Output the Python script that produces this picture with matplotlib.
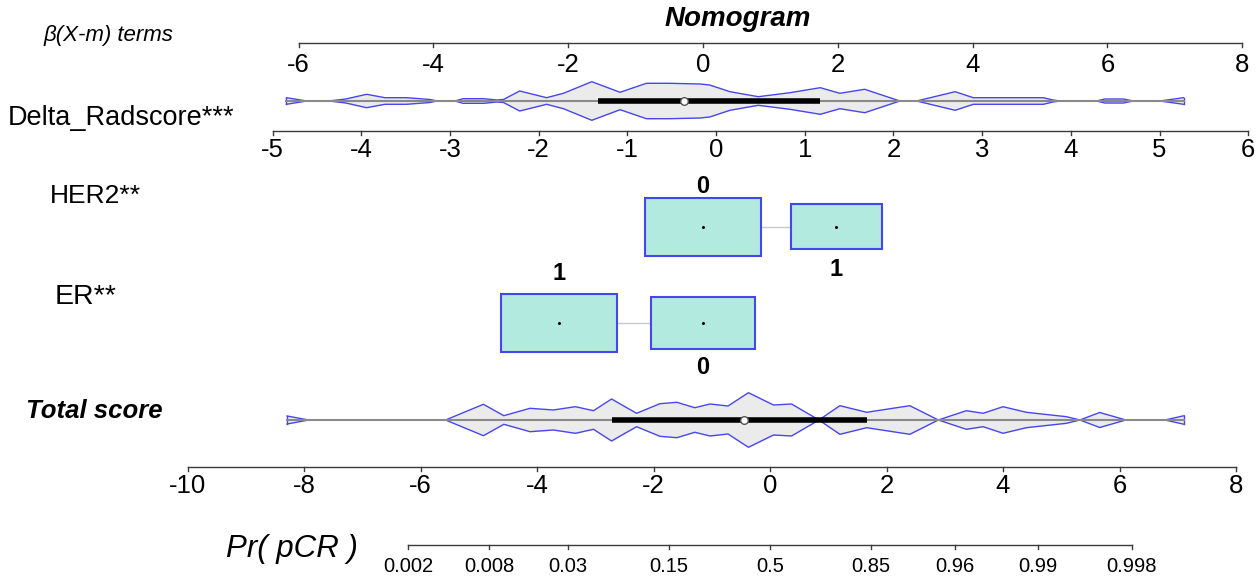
import numpy as np
import matplotlib.pyplot as plt

plt.rcParams['font.family'] = ['Liberation Sans', 'DejaVu Sans']

# ---- values ----
beta_ticks = [-6, -4, -2, 0, 2, 4, 6, 8]

# Delta_Radscore: raw axis and beta*(X - m) mapping
delta_ticks = [-5, -4, -3, -2, -1, 0, 1, 2, 3, 4, 5, 6]
delta_coef = 1.316
delta_mean = -0.147
# violin outline on the beta scale (half width in px)
delta_x = [-6.18, -5.88, -5.55, -5.30, -4.99, -4.72, -4.40, -4.05, -3.95, -3.68,
           -3.56, -3.25, -3.06, -2.96, -2.72, -2.32, -2.07, -1.65, -1.23, -0.84,
           -0.50, -0.04, 0.10, 0.40, 0.82, 1.29, 1.74, 2.03, 2.40, 2.92,
           3.17, 3.74, 4.01, 5.05, 5.19, 5.30, 5.84, 5.96, 6.24, 6.38, 6.78, 7.13]
delta_w = [3.3, 0, 0, 2, 6.7, 3.3, 3.3, 1.5, 0, 0,
           2.3, 2.3, 1, 1.5, 10, 3.3, 7.7, 19.3, 8.7, 17.7,
           17.7, 17, 16, 9.3, 4.3, 8.3, 13.3, 7.7, 11.7, 0,
           0, 9.3, 3.3, 3.3, 1, 0, 0, 2, 2, 0, 0, 3.3]
delta_iqr = [-1.56, 1.74]
delta_med = -0.28

her2_levels = ['0', '1']
her2_beta = [0.0, 1.98]
her2_freq = [0.62, 0.38]

er_levels = ['1', '0']
er_beta = [-2.14, 0.0]
er_freq = [0.55, 0.45]

# total score violin (total-point scale)
total_ticks = [-10, -8, -6, -4, -2, 0, 2, 4, 6, 8]
total_x = [-8.29, -7.92, -5.57, -4.92, -4.57, -4.12, -3.72, -3.34, -3.03, -2.72,
           -2.29, -1.89, -1.60, -1.29, -1.03, -0.72, -0.37, 0.06, 0.37, 0.84,
           1.20, 1.66, 2.40, 2.89, 3.37, 3.66, 4.00, 4.40, 5.09, 5.32,
           5.66, 6.11, 6.78, 7.11]
total_w = [4, 0, 0, 15.7, 4.3, 11.7, 10, 13.3, 9.3, 21,
           6.7, 16.3, 17.7, 12.3, 16, 14, 27.3, 15, 16, 0,
           14.3, 7.7, 14.3, 0, 9.3, 6.7, 13.3, 7.7, 3.3, 0,
           7.5, 0, 0, 4.3]
total_iqr = [-2.72, 1.66]
total_med = -0.45

prob_ticks = [0.002, 0.008, 0.03, 0.15, 0.5, 0.85, 0.96, 0.99, 0.998]
prob_labels = ['0.002', '0.008', '0.03', '0.15', '0.5', '0.85', '0.96', '0.99', '0.998']

# ---- figure ----
W, H = 1258, 578
BLUE = '#4646ee'
AXC = '#3a3a3a'

fig = plt.figure(figsize=(W / 100, H / 100), dpi=100)
ax = fig.add_axes([0, 0, 1, 1])          # beta(X-m) scale
ax.set_xlim(-703 / 67.4, (W - 703) / 67.4)
ax.set_ylim(H, 0)
ax.axis('off')
ax2 = fig.add_axes([0, 0, 1, 1])         # total points scale
ax2.set_xlim(-770 / 58.25, (W - 770) / 58.25)
ax2.set_ylim(H, 0)
ax2.axis('off')


def draw_axis(a, pos, labels, y, ylab, fs=18.5):
    a.plot([pos[0], pos[-1]], [y, y], color=AXC, lw=1)
    for p, lab in zip(pos, labels):
        a.plot([p, p], [y, y + 4], color=AXC, lw=1)
        a.text(p, ylab, lab, ha='center', va='center', fontsize=fs)


def draw_violin(a, xs, ws, y0, iqr, med):
    xs = np.array(xs)
    ws = np.array(ws)
    a.fill_between(xs, y0 - ws, y0 + ws, color='#ebebeb', lw=0)
    a.plot(xs, y0 - ws, color=BLUE, lw=1)
    a.plot(xs, y0 + ws, color=BLUE, lw=1)
    for i in (0, -1):
        a.plot([xs[i], xs[i]], [y0 - ws[i], y0 + ws[i]], color=BLUE, lw=1)
    a.plot([xs[0], xs[-1]], [y0, y0], color='#8a8a8a', lw=1.5)
    a.plot(iqr, [y0, y0], color='black', lw=4, solid_capstyle='butt')
    a.plot([med], [y0], 'o', ms=5.5, mfc='white', mec='#555555', mew=1)


def draw_boxes(a, betas, freqs, levels, y0, label_dy):
    pmax = max(freqs)
    a.plot([min(betas), max(betas)], [y0, y0], color='#c8c8c8', lw=1, zorder=1)
    for b, p, lev, dy in zip(betas, freqs, levels, label_dy):
        s = np.sqrt(p / pmax)
        w, h = 1.72 * s, 58 * s
        a.add_patch(plt.Rectangle((b - w / 2, y0 - h / 2), w, h, facecolor='#b3eadf',
                                  edgecolor=BLUE, lw=1.5, zorder=2))
        a.plot([b], [y0], 'o', ms=1.2, color='black', zorder=3)
        a.text(b, y0 + dy, lev, ha='center', va='center', fontsize=17,
               fontweight='bold')


# top beta axis
draw_axis(ax, beta_ticks, [str(t) for t in beta_ticks], 43, 65)

# Delta_Radscore
draw_violin(ax, delta_x, delta_w, 101, delta_iqr, delta_med)
delta_pos = [delta_coef * (t - delta_mean) for t in delta_ticks]
draw_axis(ax, delta_pos, [str(t) for t in delta_ticks], 131, 150)

# HER2 and ER
draw_boxes(ax, her2_beta, her2_freq, her2_levels, 226.5, [-40, 43])
draw_boxes(ax, er_beta, er_freq, er_levels, 323, [-50, 44])

# total score
draw_violin(ax2, total_x, total_w, 420, total_iqr, total_med)
draw_axis(ax2, total_ticks, [str(t) for t in total_ticks], 467, 486)

# probability axis (logit of total score)
prob_pos = [np.log(p / (1 - p)) for p in prob_ticks]
draw_axis(ax2, prob_pos, prob_labels, 545, 567, fs=14.5)

# texts


def ftext(x, y, s, **kw):
    fig.text(x / W, 1 - y / H, s, **kw)


ftext(738, 19, 'Nomogram', ha='center', va='center', fontsize=20,
      fontweight='bold', fontstyle='italic')
ftext(44, 35, 'β(X-m) terms', ha='left', va='center', fontsize=16, fontstyle='italic')
ftext(8, 118, 'Delta_Radscore***', ha='left', va='center', fontsize=19.5)
ftext(50, 196, 'HER2**', ha='left', va='center', fontsize=19)
ftext(55, 297, 'ER**', ha='left', va='center', fontsize=20.5)
ftext(26, 411, 'Total score', ha='left', va='center', fontsize=18.5,
      fontweight='bold', fontstyle='italic')
ftext(226, 549, 'Pr( pCR )', ha='left', va='center', fontsize=22.5, fontstyle='italic')

fig.savefig('out.png', dpi=100)
